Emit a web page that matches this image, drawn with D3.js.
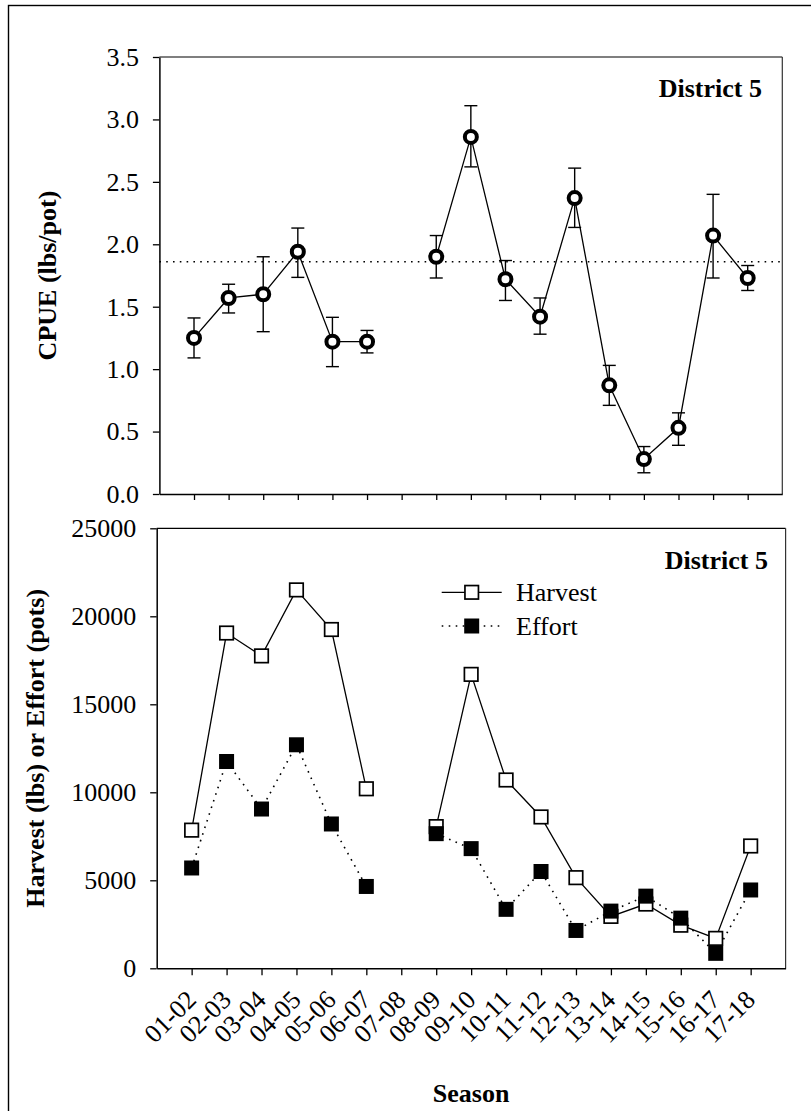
<!DOCTYPE html>
<html>
<head>
<meta charset="utf-8">
<script src="https://cdn.jsdelivr.net/npm/d3@7"></script>
<style>
  html, body { margin: 0; padding: 0; background: #fff; }
  svg { display: block; }
  text { font-family: "Liberation Serif", "Times New Roman", serif; fill: #000; }
</style>
</head>
<body>
<svg id="chart" width="811" height="1111"></svg>
<script>
// Seasons on the shared x axis
const seasons = ["01-02","02-03","03-04","04-05","05-06","06-07","07-08","08-09",
                 "09-10","10-11","11-12","12-13","13-14","14-15","15-16","16-17","17-18"];

// CPUE (lbs/pot) with error bar limits; 07-08 had no fishery
const cpue      = [1.25, 1.57, 1.60, 1.94, 1.22, 1.22, null, 1.90, 2.86, 1.72, 1.42, 2.37, 0.87, 0.28, 0.53, 2.07, 1.73];
const cpueUpper = [1.41, 1.68, 1.90, 2.13, 1.415, 1.31, null, 2.07, 3.11, 1.87, 1.57, 2.61, 1.03, 0.38, 0.65, 2.40, 1.83];
const cpueLower = [1.09, 1.45, 1.30, 1.735, 1.02, 1.13, null, 1.73, 2.62, 1.55, 1.28, 2.135, 0.71, 0.17, 0.39, 1.73, 1.63];
const cpueMean  = 1.86;

// Harvest (lbs) and effort (pots)
const harvest = [7850, 19050, 17750, 21500, 19250, 10200, null, 8050, 16700, 10700, 8600, 5150, 2950, 3650, 2450, 1700, 6950];
const effort  = [5700, 11750, 9050, 12700, 8200, 4650, null, 7650, 6800, 3350, 5500, 2150, 3250, 4100, 2850, 850, 4450];

const cpueTicks  = [0, 0.5, 1.0, 1.5, 2.0, 2.5, 3.0, 3.5];
const countTicks = [0, 5000, 10000, 15000, 20000, 25000];

const panelTitle = "District 5";
const legendNames = ["Harvest", "Effort"];

const svg = d3.select("#chart");
const idx = d3.range(seasons.length);

// outer frame
svg.append("rect")
  .attr("x", 8.5).attr("y", 5.5).attr("width", 820).attr("height", 1120)
  .attr("fill", "none").attr("stroke", "#000").attr("stroke-width", 1.4);

function frame(g, x0, x1, y0, y1) {
  g.append("line").attr("x1", x0).attr("x2", x1).attr("y1", y0).attr("y2", y0)
    .attr("stroke", "#000").attr("stroke-width", 1.2);
  g.append("line").attr("x1", x1).attr("x2", x1).attr("y1", y0).attr("y2", y1)
    .attr("stroke", "#333").attr("stroke-width", 1.2);
}

function styleAxis(g) {
  g.selectAll("path.domain").attr("stroke", "#000").attr("stroke-width", 1.5);
  g.selectAll(".tick line").attr("stroke", "#000").attr("stroke-width", 1.3);
  g.selectAll(".tick text").attr("font-size", 26)
    .attr("font-family", "'Liberation Serif', 'Times New Roman', serif");
}

/* ---------- Top panel: CPUE ---------- */
const xTop = d3.scaleLinear().domain([-1, 17]).range([159.4, 782.3]);
const yTop = d3.scaleLinear().domain([0, 3.5]).range([494, 57]);
const topPanel = svg.append("g");

frame(topPanel, xTop.range()[0], xTop.range()[1], yTop(3.5), yTop(0));

topPanel.append("g").attr("transform", `translate(${xTop.range()[0]},0)`)
  .call(d3.axisLeft(yTop).tickValues(cpueTicks).tickSize(6.5).tickSizeOuter(0)
        .tickPadding(14).tickFormat(d3.format(".1f")))
  .call(styleAxis);

topPanel.append("g").attr("transform", `translate(0,${yTop(0)})`)
  .call(d3.axisBottom(xTop).tickValues(idx).tickSize(6).tickSizeOuter(0).tickFormat(""))
  .call(styleAxis);

// long-term mean
topPanel.append("line")
  .attr("x1", xTop.range()[0]).attr("x2", xTop.range()[1])
  .attr("y1", yTop(cpueMean)).attr("y2", yTop(cpueMean))
  .attr("stroke", "#000").attr("stroke-width", 1.5).attr("stroke-dasharray", "1.6,5.2");

const cpueLine = d3.line().defined(i => cpue[i] !== null)
  .x(i => xTop(i)).y(i => yTop(cpue[i]));
topPanel.append("path").attr("d", cpueLine(idx))
  .attr("fill", "none").attr("stroke", "#000").attr("stroke-width", 1.3);

const valid = idx.filter(i => cpue[i] !== null);
const eb = topPanel.append("g").attr("stroke", "#000").attr("stroke-width", 1.4);
valid.forEach(i => {
  const x = xTop(i);
  eb.append("line").attr("x1", x).attr("x2", x).attr("y1", yTop(cpueLower[i])).attr("y2", yTop(cpueUpper[i]));
  eb.append("line").attr("x1", x - 6.5).attr("x2", x + 6.5).attr("y1", yTop(cpueUpper[i])).attr("y2", yTop(cpueUpper[i]));
  eb.append("line").attr("x1", x - 6.5).attr("x2", x + 6.5).attr("y1", yTop(cpueLower[i])).attr("y2", yTop(cpueLower[i]));
});

topPanel.selectAll("circle.cpue").data(valid).join("circle")
  .attr("class", "cpue")
  .attr("cx", i => xTop(i)).attr("cy", i => yTop(cpue[i])).attr("r", 6)
  .attr("fill", "#fff").attr("stroke", "#000").attr("stroke-width", 4);

topPanel.append("text").attr("x", 762).attr("y", 97)
  .attr("text-anchor", "end").attr("font-size", 26).attr("font-weight", "bold")
  .text(panelTitle);

topPanel.append("text")
  .attr("transform", `translate(56,${(yTop(0) + yTop(3.5)) / 2}) rotate(-90)`)
  .attr("text-anchor", "middle").attr("font-size", 26).attr("font-weight", "bold")
  .text("CPUE (lbs/pot)");

/* ---------- Bottom panel: harvest and effort ---------- */
const xBot = d3.scaleLinear().domain([-1, 17]).range([156.7, 785.6]);
const yBot = d3.scaleLinear().domain([0, 25000]).range([968.3, 528.3]);
const botPanel = svg.append("g");

frame(botPanel, xBot.range()[0], xBot.range()[1], yBot(25000), yBot(0));

botPanel.append("g").attr("transform", `translate(${xBot.range()[0]},0)`)
  .call(d3.axisLeft(yBot).tickValues(countTicks).tickSize(6.5).tickSizeOuter(0)
        .tickPadding(14).tickFormat(d3.format("d")))
  .call(styleAxis);

botPanel.append("g").attr("transform", `translate(0,${yBot(0)})`)
  .call(d3.axisBottom(xBot).tickValues(idx).tickSize(7).tickSizeOuter(0).tickFormat(""))
  .call(styleAxis);

// rotated season labels
botPanel.selectAll("text.season").data(idx).join("text")
  .attr("class", "season")
  .attr("transform", i => `translate(${xBot(i) + 6},${yBot(0) + 33}) rotate(-45)`)
  .attr("text-anchor", "end").attr("font-size", 26)
  .text(i => seasons[i]);

const harvestLine = d3.line().defined(i => harvest[i] !== null)
  .x(i => xBot(i)).y(i => yBot(harvest[i]));
const effortLine = d3.line().defined(i => effort[i] !== null)
  .x(i => xBot(i)).y(i => yBot(effort[i]));

botPanel.append("path").attr("d", harvestLine(idx))
  .attr("fill", "none").attr("stroke", "#000").attr("stroke-width", 1.3);
botPanel.append("path").attr("d", effortLine(idx))
  .attr("fill", "none").attr("stroke", "#000").attr("stroke-width", 1.6)
  .attr("stroke-dasharray", "1.6,5.4");

const hv = idx.filter(i => harvest[i] !== null);
const ev = idx.filter(i => effort[i] !== null);
const S = 13.5;

botPanel.selectAll("rect.harvest").data(hv).join("rect")
  .attr("class", "harvest")
  .attr("x", i => xBot(i) - S / 2).attr("y", i => yBot(harvest[i]) - S / 2)
  .attr("width", S).attr("height", S)
  .attr("fill", "#fff").attr("stroke", "#000").attr("stroke-width", 1.7);

botPanel.selectAll("rect.effort").data(ev).join("rect")
  .attr("class", "effort")
  .attr("x", i => xBot(i) - 7.5).attr("y", i => yBot(effort[i]) - 7.5)
  .attr("width", 15).attr("height", 15)
  .attr("fill", "#000");

// legend
const lg = botPanel.append("g");
const lgRows = [
  { name: legendNames[0], y: 592.3, dash: null, fill: "#fff" },
  { name: legendNames[1], y: 626, dash: "1.6,5.4", fill: "#000" }
];
lgRows.forEach(r => {
  lg.append("line").attr("x1", 441.7).attr("x2", 501.7).attr("y1", r.y).attr("y2", r.y)
    .attr("stroke", "#000").attr("stroke-width", r.dash ? 1.6 : 1.3)
    .attr("stroke-dasharray", r.dash);
  if (r.fill === "#fff") {
    lg.append("rect").attr("x", 471.7 - S / 2).attr("y", r.y - S / 2).attr("width", S).attr("height", S)
      .attr("fill", "#fff").attr("stroke", "#000").attr("stroke-width", 1.7);
  } else {
    lg.append("rect").attr("x", 471.7 - 7.5).attr("y", r.y - 7.5).attr("width", 15).attr("height", 15)
      .attr("fill", "#000");
  }
  lg.append("text").attr("x", 516).attr("y", r.y + 8.5).attr("font-size", 26).text(r.name);
});

botPanel.append("text").attr("x", 768).attr("y", 569)
  .attr("text-anchor", "end").attr("font-size", 26).attr("font-weight", "bold")
  .text(panelTitle);

botPanel.append("text")
  .attr("transform", `translate(44,${(yBot(0) + yBot(25000)) / 2}) rotate(-90)`)
  .attr("text-anchor", "middle").attr("font-size", 26).attr("font-weight", "bold")
  .text("Harvest (lbs) or Effort (pots)");

botPanel.append("text").attr("x", (xBot.range()[0] + xBot.range()[1]) / 2).attr("y", 1102)
  .attr("text-anchor", "middle").attr("font-size", 26).attr("font-weight", "bold")
  .text("Season");
</script>
</body>
</html>
